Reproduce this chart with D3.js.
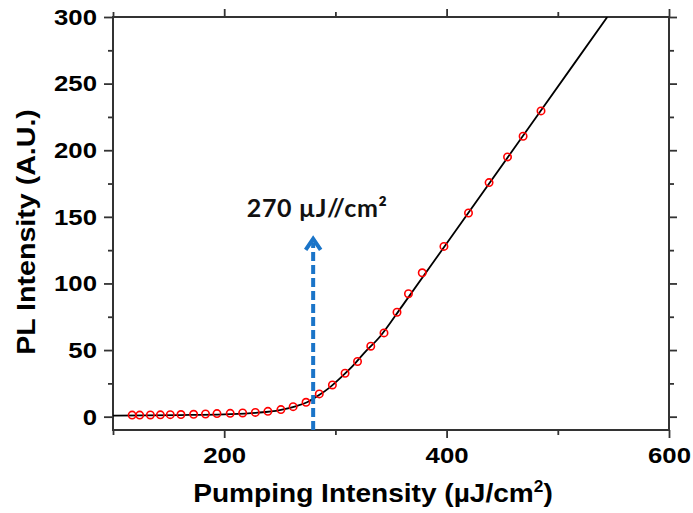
<!DOCTYPE html>
<html><head><meta charset="utf-8">
<script src="https://cdn.jsdelivr.net/npm/d3@7"></script>
<style>body{margin:0;background:#fff}</style></head>
<body><svg id="chart" width="693" height="513"></svg>
<script>
// Measured data (Pumping intensity, PL intensity)
const pumpX = [117.2,124.0,133.6,142.6,151.5,161.1,172.5,183.2,193.5,205.4,216.6,228.0,239.3,251.0,262.0,273.6,285.5,297.3,308.7,319.9,331.8,343.7,355.4,365.7,378.1,397.6,419.7,438.2,454.8,468.8,484.9];
const plY   = [1.2,1.2,1.3,1.4,1.5,1.6,1.8,2.0,2.3,2.5,2.8,3.2,4.0,5.3,7.5,10.8,17.1,23.8,32.6,41.4,52.9,62.9,78.4,92.3,108.0,127.8,152.9,175.7,195.0,210.5,229.5];
// Fit line
const fitX = [100,160,200,230,250,265,275,285,295,305,315,325,340,360,400,485,544.5];
const fitY = [0.8,1.2,1.8,3.0,5.0,8.0,11,16,22,29.5,37.5,47,60,83,130,230,300];
// Axes
const xMajor = [200,400,600];
const xMinor = [100,300,500];
const yMajor = [0,50,100,150,200,250,300];
const yMinor = [25,75,125,175,225,275];
// Threshold annotation
const arrowX = 280, arrowFrom = -10, arrowTo = 135;
const annText = "270 µJ//cm²";

const svg = d3.select("#chart");
const L=113, R=669, T=17, B=430;
const x = d3.scaleLinear().domain([100,600]).range([L,R]);
const y = d3.scaleLinear().domain([-10,300]).range([B,T]);
const axisColor = "#333";

function styleAxis(g){
  g.select(".domain").remove();
  g.selectAll(".tick line").attr("stroke",axisColor).attr("stroke-width",1.8);
  g.selectAll(".tick text").attr("font-family","'Liberation Sans', Arial, sans-serif")
    .attr("font-weight","bold").attr("font-size",23).attr("fill","#000");
}
// bottom
svg.append("g").attr("transform",`translate(0,${B})`)
  .call(d3.axisBottom(x).tickValues(xMajor).tickSize(8).tickPadding(9).tickFormat(d3.format("d"))).call(styleAxis);
svg.append("g").attr("transform",`translate(0,${B})`)
  .call(d3.axisBottom(x).tickValues(xMinor).tickSize(5).tickFormat("")).call(styleAxis);
// top
svg.append("g").attr("transform",`translate(0,${T})`)
  .call(d3.axisTop(x).tickValues(xMajor).tickSize(8).tickFormat("")).call(styleAxis);
svg.append("g").attr("transform",`translate(0,${T})`)
  .call(d3.axisTop(x).tickValues(xMinor).tickSize(5).tickFormat("")).call(styleAxis);
// left
svg.append("g").attr("transform",`translate(${L},0)`)
  .call(d3.axisLeft(y).tickValues(yMajor).tickSize(9).tickPadding(7).tickFormat(d3.format("d"))).call(styleAxis);
svg.append("g").attr("transform",`translate(${L},0)`)
  .call(d3.axisLeft(y).tickValues(yMinor).tickSize(5).tickFormat("")).call(styleAxis);
// right
svg.append("g").attr("transform",`translate(${R},0)`)
  .call(d3.axisRight(y).tickValues(yMajor).tickSize(8).tickFormat("")).call(styleAxis);
svg.append("g").attr("transform",`translate(${R},0)`)
  .call(d3.axisRight(y).tickValues(yMinor).tickSize(5).tickFormat("")).call(styleAxis);

// widen tick labels slightly (source font is wider)
svg.selectAll(".tick text").each(function(){
  const t=d3.select(this);
  t.attr("transform","scale(1.12,1)").attr("x", (+t.attr("x")||0)/1.12);
});

// frame
svg.append("rect").attr("x",L).attr("y",T).attr("width",R-L).attr("height",B-T)
  .attr("fill","none").attr("stroke",axisColor).attr("stroke-width",2);

// clip
svg.append("clipPath").attr("id","clip").append("rect").attr("x",L).attr("y",T).attr("width",R-L).attr("height",B-T);

// fit line
const fitData = fitX.map((d,i)=>[d,fitY[i]]);
svg.append("path").attr("clip-path","url(#clip)")
  .attr("d", d3.line().x(d=>x(d[0])).y(d=>y(d[1])).curve(d3.curveMonotoneX)(fitData))
  .attr("fill","none").attr("stroke","#000").attr("stroke-width",1.8);

// arrow
const blue="#1a74c8";
svg.append("line").attr("x1",x(arrowX)).attr("x2",x(arrowX))
  .attr("y1",y(arrowFrom)).attr("y2",y(arrowTo)+6)
  .attr("stroke",blue).attr("stroke-width",4).attr("stroke-dasharray","9,4");
svg.append("path")
  .attr("d",`M${x(arrowX)-7.5},${y(arrowTo)+13} L${x(arrowX)},${y(arrowTo)+2} L${x(arrowX)+7.5},${y(arrowTo)+13}`)
  .attr("fill","none").attr("stroke",blue).attr("stroke-width",4).attr("stroke-linejoin","miter");

// points
const pts = pumpX.map((d,i)=>[d,plY[i]]);
svg.append("g").selectAll("circle").data(pts).join("circle")
  .attr("cx",d=>x(d[0])).attr("cy",d=>y(d[1])).attr("r",3.7)
  .attr("fill","none").attr("stroke","#ff0000").attr("stroke-width",1.6);

// annotation text
svg.append("text").attr("x",x(arrowX)+4).attr("y",y(arrowTo)-20)
  .attr("text-anchor","middle").attr("font-family","Lato, 'Open Sans', sans-serif")
  .attr("font-weight","bold").attr("font-size",25).attr("letter-spacing",0.6).attr("fill","#111").text(annText);

// axis titles
const xt = svg.append("text").attr("transform",`translate(373,502) scale(1.08,1)`)
  .attr("text-anchor","middle").attr("font-family","'Liberation Sans', Arial, sans-serif")
  .attr("font-weight","bold").attr("font-size",26).attr("fill","#000");
xt.append("tspan").text("Pumping Intensity (µJ/cm");
xt.append("tspan").attr("font-size",16).attr("dy",-10).text("2");
xt.append("tspan").attr("dy",10).text(")");

svg.append("text").attr("transform",`translate(35,232) rotate(-90) scale(1.1,1)`)
  .attr("text-anchor","middle").attr("font-family","'Liberation Sans', Arial, sans-serif")
  .attr("font-weight","bold").attr("font-size",26).attr("fill","#000")
  .text("PL Intensity (A.U.)");
</script></body></html>
